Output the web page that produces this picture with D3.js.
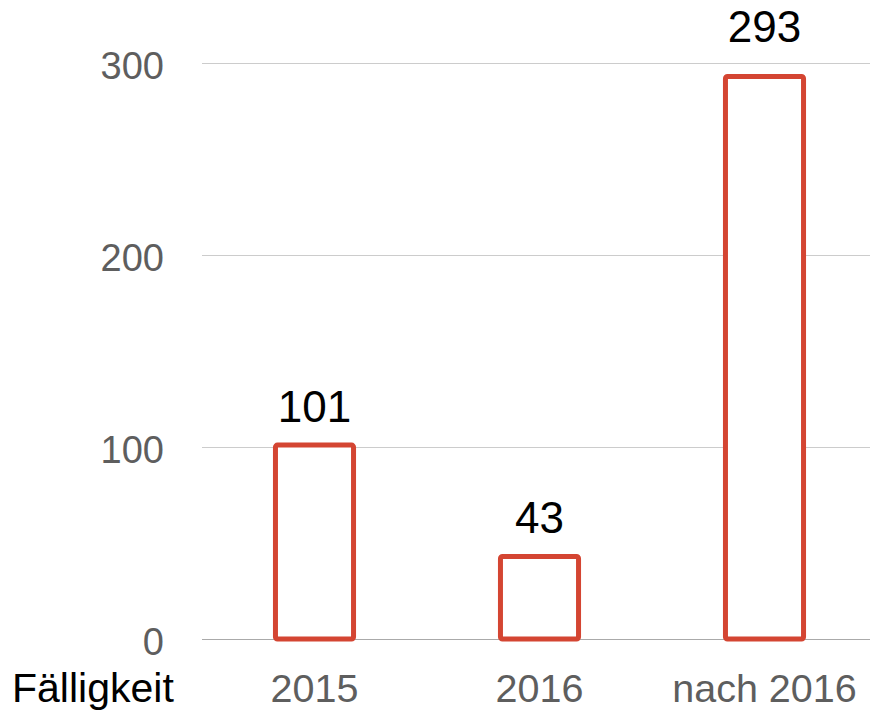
<!DOCTYPE html>
<html>
<head>
<meta charset="utf-8">
<script src="https://cdn.jsdelivr.net/npm/d3@7"></script>
<style>
  html, body { margin: 0; padding: 0; background: #fff; }
  svg { display: block; font-family: "Liberation Sans", Arial, sans-serif; }
</style>
</head>
<body>
<svg id="chart" width="870" height="711"></svg>
<script>
const categories = ["2015", "2016", "nach 2016"];
const values = [101, 43, 293];
const yTicks = [0, 100, 200, 300];
const axisTitle = "Fälligkeit";

const W = 870, H = 711;
const margin = { left: 202, right: -7, top: 63, bottom: 72 };
const svg = d3.select("#chart");

const x = d3.scaleBand()
  .domain(categories)
  .range([margin.left, W - margin.right])
  .paddingInner(0.653)
  .paddingOuter(0.3265);

const y = d3.scaleLinear()
  .domain([0, 300])
  .range([H - margin.bottom, margin.top]);

// gridlines
svg.append("g").selectAll("line")
  .data(yTicks)
  .join("line")
  .attr("x1", margin.left)
  .attr("x2", W)
  .attr("y1", d => Math.round(y(d)) + 0.5)
  .attr("y2", d => Math.round(y(d)) + 0.5)
  .attr("stroke", d => d === 0 ? "#aaaaaa" : "#cccccc")
  .attr("stroke-width", 1);

// y tick labels
svg.append("g").selectAll("text")
  .data(yTicks)
  .join("text")
  .attr("x", 164)
  .attr("y", d => y(d) + 15.5)
  .attr("text-anchor", "end")
  .attr("font-size", 38)
  .attr("fill", "#5e5e5e")
  .text(d => d);

// bars
svg.append("g").selectAll("rect")
  .data(values)
  .join("rect")
  .attr("x", (d, i) => x(categories[i]))
  .attr("width", x.bandwidth())
  .attr("y", d => y(d))
  .attr("height", d => y(0) - y(d))
  .attr("rx", 2)
  .attr("fill", "#ffffff")
  .attr("stroke", "#d44532")
  .attr("stroke-width", 5);

// value labels (labels that would cross the top gridline are lifted above it)
svg.append("g").selectAll("text")
  .data(values)
  .join("text")
  .attr("x", (d, i) => x(categories[i]) + x.bandwidth() / 2)
  .attr("y", d => {
    const ly = y(d) - 23.5;
    return ly < y(300) ? Math.min(ly, y(300) - 21) : ly;
  })
  .attr("text-anchor", "middle")
  .attr("font-size", 44)
  .attr("fill", "#000")
  .text(d => d);

// x labels
svg.append("g").selectAll("text")
  .data(categories)
  .join("text")
  .attr("x", d => x(d) + x.bandwidth() / 2)
  .attr("y", 701.5)
  .attr("text-anchor", "middle")
  .attr("font-size", 39.5)
  .attr("fill", "#5e5e5e")
  .text(d => d);

// axis title
svg.append("text")
  .attr("x", 12)
  .attr("y", 701.5)
  .attr("font-size", 41)
  .attr("fill", "#000")
  .text(axisTitle);
</script>
</body>
</html>
